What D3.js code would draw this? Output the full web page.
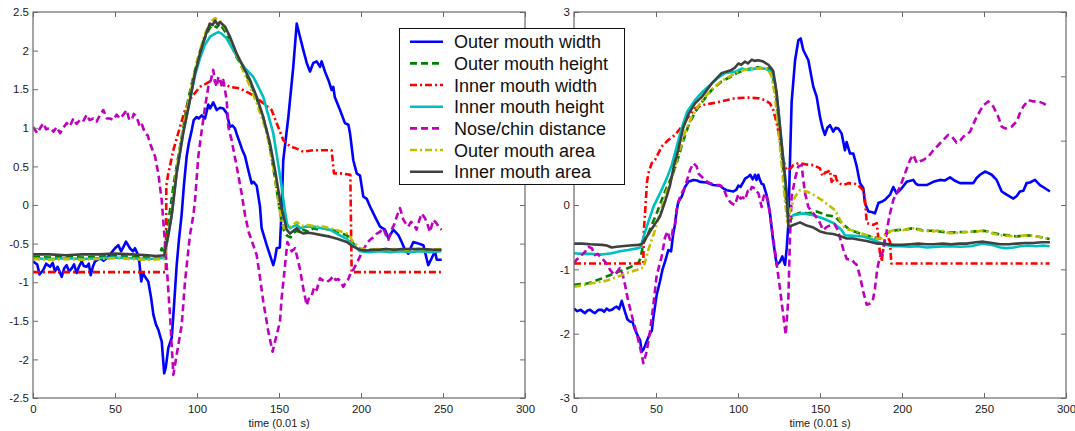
<!DOCTYPE html>
<html>
<head>
<meta charset="utf-8">
<script src="https://cdn.jsdelivr.net/npm/d3@7"></script>
<style>
  html, body { margin: 0; padding: 0; background: #fff; }
  svg { display: block; font-family: "Liberation Sans", Arial, sans-serif; }
</style>
</head>
<body>
<svg id="chart" width="1075" height="431"></svg>
<script>
// ---- tick values ----
const xTicks = [0, 50, 100, 150, 200, 250, 300];
const leftYTicks = [-2.5, -2, -1.5, -1, -0.5, 0, 0.5, 1, 1.5, 2, 2.5];
const rightYTicks = [-3, -2, -1, 0, 1, 2, 3];
const xLabel = "time (0.01 s)";

const seriesNames = ["Outer mouth width", "Outer mouth height", "Inner mouth width",
  "Inner mouth height", "Nose/chin distance", "Outer mouth area", "Inner mouth area"];

// ---- left panel: [time, value] ----
const leftOuterWidth = [[0,-0.73],[2.6,-0.77],[4,-0.9],[6.3,-0.84],[8,-0.76],[10.4,-0.8],[12,-0.75],[13.4,-0.86],[15,-0.8],[17.5,-0.93],[19,-0.82],[20.5,-0.78],[22,-0.86],[23.6,-0.82],[25,-0.77],[26.6,-0.88],[28,-0.8],[29.7,-0.73],[31,-0.79],[32.7,-0.8],[34,-0.76],[35.2,-0.91],[36.5,-0.8],[37.8,-0.73],[40.9,-0.69],[43,-0.72],[44.9,-0.69],[47,-0.64],[50,-0.56],[52,-0.52],[53.7,-0.6],[55,-0.55],[56.7,-0.475],[58,-0.52],[59.1,-0.56],[61,-0.6],[62.2,-0.56],[63.5,-0.62],[64.8,-0.73],[66,-0.99],[67,-0.88],[68.3,-0.93],[70.3,-0.99],[72,-1.2],[73.4,-1.42],[75,-1.55],[76.5,-1.62],[78.5,-1.77],[80,-2.18],[81,-2.1],[82.5,-1.85],[84.6,-1.72],[86,-1.3],[87.6,-0.78],[89,-0.45],[90.6,-0.13],[92,0.25],[93.7,0.63],[95,0.8],[96.8,0.97],[98,1.1],[99.8,1.14],[101,1.12],[102.9,1.16],[104.9,1.12],[106.9,1.3],[108,1.25],[109.9,1.33],[112,1.23],[114,1.26],[116,1.25],[118.1,1.19],[120.1,1.01],[121.5,1.03],[123.2,0.99],[124.5,0.9],[126.2,0.8],[127.5,0.72],[129.3,0.63],[131.3,0.45],[133.3,0.28],[134.5,0.3],[136.4,0.25],[138.4,-0.02],[139.4,-0.3],[142.5,-0.52],[144.5,-0.65],[146.5,-0.78],[147.5,-0.7],[148.6,-0.56],[150.5,-0.55],[151.5,-0.1],[152.6,0.58],[155.7,1.14],[158.7,1.79],[160.8,2.35],[162.8,2.18],[164.8,2.01],[166.9,1.84],[168.9,1.73],[170.9,1.84],[173,1.86],[175,1.79],[176,1.86],[178,1.73],[180.1,1.62],[182.1,1.49],[183.1,1.53],[184,1.4],[187.2,1.23],[190.2,1.06],[192.3,1.04],[193.3,0.93],[195.3,0.58],[197.4,0.41],[199.4,0.38],[201.4,0.11],[203.5,0.08],[205.5,-0.02],[208.5,-0.15],[211.6,-0.28],[214.6,-0.32],[216.7,-0.43],[219.7,-0.32],[222.8,-0.39],[224.8,-0.48],[226.8,-0.58],[228.8,-0.63],[231.9,-0.48],[235,-0.5],[238,-0.52],[241,-0.78],[243.1,-0.69],[245.1,-0.6],[246.2,-0.71],[249.2,-0.71]];

const leftOuterHeight = [[0,-0.67],[10,-0.68],[20,-0.67],[30,-0.68],[40,-0.67],[50,-0.66],[60,-0.67],[70,-0.68],[77,-0.67],[78.5,-0.56],[80,-0.6],[82,-0.3],[84,0.0],[86,0.3],[88,0.55],[90,0.8],[92,1.05],[94,1.3],[96,1.5],[98,1.68],[100,1.85],[102,2.0],[104,2.12],[106,2.22],[108,2.3],[110,2.33],[112,2.3],[114,2.35],[116,2.28],[118,2.22],[120,2.12],[122,2.02],[124,1.92],[126,1.85],[128,1.76],[130,1.68],[132,1.6],[134,1.5],[136,1.4],[138,1.28],[140,1.16],[142,1.0],[144,0.8],[146,0.55],[148,0.28],[150,0.0],[151.5,-0.2],[153,-0.33],[155,-0.4],[157,-0.42],[159,-0.36],[161,-0.33],[163,-0.36],[165,-0.32],[168,-0.35],[171,-0.3],[174,-0.32],[177,-0.3],[181,-0.32],[185,-0.34],[188,-0.37],[191,-0.39],[193,-0.42],[195.3,-0.5],[197,-0.54],[200,-0.57],[205,-0.58],[210,-0.58],[215,-0.57],[220,-0.58],[225,-0.59],[230,-0.58],[235,-0.57],[240,-0.58],[245,-0.58],[249,-0.58]];

const leftInnerWidth = [[0,-0.87],[81,-0.87],[81.3,0.25],[82.5,0.41],[85.6,0.71],[89.6,1.01],[92.7,1.23],[96.8,1.4],[101.8,1.53],[107.9,1.6],[114,1.6],[120.1,1.53],[126.2,1.51],[134.3,1.42],[140.4,1.32],[145.5,1.23],[148.6,1.06],[152.6,0.84],[156.7,0.76],[160.8,0.73],[164.8,0.69],[170.9,0.71],[177,0.71],[182.1,0.71],[183.5,0.41],[187.2,0.41],[193.5,0.39],[194.3,-0.87],[249.2,-0.87]];

const leftInnerHeight = [[0,-0.69],[10,-0.7],[20,-0.69],[30,-0.7],[40,-0.69],[50,-0.68],[60,-0.69],[70,-0.7],[78,-0.69],[80,-0.68],[82.5,-0.4],[84.6,-0.12],[87.6,0.42],[91.6,0.95],[95.7,1.36],[98.8,1.68],[101.8,1.9],[104.9,2.08],[108,2.18],[111,2.22],[113,2.24],[115,2.22],[118,2.16],[121,2.05],[125,1.9],[129,1.78],[134.3,1.66],[137,1.55],[140.4,1.4],[143,1.2],[146.5,0.93],[149,0.6],[151.6,0.24],[153.6,-0.08],[155,-0.25],[156.7,-0.3],[158.5,-0.28],[160.8,-0.26],[163,-0.3],[166,-0.28],[171,-0.28],[176,-0.3],[181,-0.32],[186,-0.38],[191.3,-0.44],[195.3,-0.52],[199.4,-0.6],[205,-0.61],[211.6,-0.6],[218,-0.61],[224,-0.6],[230,-0.61],[236,-0.6],[242,-0.61],[249,-0.6]];

const leftNoseChin = [[0,1.01],[2.6,0.93],[4.5,1.0],[6.3,1.06],[8,0.98],[10.4,1.0],[12.5,0.95],[14.4,1.01],[16.5,0.93],[18.5,1.0],[20.5,1.06],[22.5,1.02],[24.6,1.12],[26.5,1.05],[28.7,1.1],[30.5,1.08],[32.7,1.17],[34.5,1.1],[36.8,1.12],[38.8,1.08],[40.9,1.17],[42.9,1.23],[45,1.12],[47,1.12],[49,1.1],[51,1.17],[53,1.12],[55.1,1.17],[57.1,1.23],[58.5,1.12],[60.2,1.1],[61.5,1.18],[63.2,1.14],[65.2,1.01],[66.5,1.04],[68.3,0.93],[70,0.9],[71.3,0.8],[74.4,0.63],[76.4,0.41],[78.5,0.06],[79.5,-0.22],[81.5,-0.78],[83.5,-1.42],[85.6,-2.2],[87.6,-1.94],[90.7,-1.55],[92.7,-0.99],[95.7,-0.39],[97.8,-0.13],[98.8,0.06],[100.8,0.63],[102.9,0.97],[104.9,1.27],[106.9,1.53],[108.5,1.62],[109.9,1.75],[111,1.6],[112,1.53],[113,1.66],[114,1.64],[115,1.55],[116,1.62],[118.1,1.36],[119.1,1.01],[121.1,0.84],[124.2,0.5],[127.2,0.15],[129.3,-0.13],[131.5,-0.35],[134.3,-0.52],[136.4,-0.65],[138.5,-0.95],[140.4,-1.25],[143.5,-1.64],[146.1,-1.9],[148.6,-1.68],[150.6,-1.51],[151.6,-1.21],[153.7,-0.78],[155.1,-0.48],[157.7,-0.6],[159.8,-0.56],[162.8,-0.83],[164.8,-1.08],[166.9,-1.3],[168.5,-1.19],[170,-1.17],[171.5,-1.06],[173,-1.1],[175,-0.95],[177,-0.98],[179,-1.0],[181.1,-0.97],[183.1,-0.92],[184.5,-0.97],[186.2,-0.96],[187.5,-0.99],[189.2,-1.06],[191,-0.99],[192.3,-0.96],[194.3,-0.85],[195.3,-0.84],[198.4,-0.71],[201.4,-0.58],[203.5,-0.5],[205.5,-0.45],[207.5,-0.42],[209.6,-0.37],[211.5,-0.35],[213.6,-0.3],[215,-0.38],[216.7,-0.45],[218.7,-0.32],[220.3,-0.25],[221.8,-0.15],[223.8,-0.04],[225.8,-0.19],[227.3,-0.24],[228.8,-0.28],[230.5,-0.22],[231.9,-0.24],[233.9,-0.32],[235.5,-0.2],[237,-0.11],[239,-0.17],[240.5,-0.25],[242.1,-0.35],[244.1,-0.19],[246.2,-0.24],[247.8,-0.3],[249.2,-0.32]];

const leftOuterArea = [[0,-0.7],[10,-0.71],[20,-0.7],[30,-0.71],[40,-0.7],[50,-0.69],[60,-0.7],[70,-0.71],[80,-0.7],[82.5,-0.38],[84.6,-0.08],[87.6,0.46],[91.6,1.0],[95.7,1.42],[98.8,1.75],[101.8,2.0],[104.9,2.22],[108,2.37],[111,2.42],[113,2.4],[115,2.36],[118,2.26],[121,2.12],[124,1.96],[128,1.75],[132,1.55],[136.4,1.32],[140,1.1],[142.5,0.93],[146.5,0.5],[149.5,0.06],[151.5,-0.2],[153,-0.3],[156,-0.3],[158.5,-0.26],[160.8,-0.22],[164,-0.27],[168,-0.26],[173,-0.28],[177,-0.28],[181,-0.3],[186,-0.33],[191.3,-0.37],[193.5,-0.42],[195.3,-0.48],[199.4,-0.56],[205,-0.58],[210,-0.57],[216,-0.58],[222,-0.57],[228,-0.58],[235,-0.57],[242,-0.58],[249,-0.57]];

const leftInnerArea = [[0,-0.64],[10,-0.64],[20,-0.65],[30,-0.64],[40,-0.64],[50,-0.63],[60,-0.64],[70,-0.65],[75,-0.66],[80,-0.65],[82.5,-0.39],[84.6,-0.13],[87.6,0.41],[91.6,0.93],[95.7,1.36],[98.8,1.71],[101.8,1.96],[104.9,2.18],[107.9,2.35],[109.5,2.33],[111,2.39],[112.5,2.34],[114,2.37],[117.1,2.31],[120.1,2.18],[124.2,1.96],[128.2,1.79],[132.3,1.62],[136.4,1.4],[140.4,1.14],[144.5,0.8],[147.6,0.45],[150.6,0.06],[152.6,-0.13],[154.7,-0.32],[156.7,-0.37],[158.5,-0.34],[160.8,-0.3],[163,-0.35],[165,-0.37],[168,-0.36],[171,-0.37],[176,-0.39],[181,-0.41],[186,-0.44],[191.3,-0.48],[195.3,-0.54],[199.4,-0.58],[203,-0.59],[207.5,-0.58],[211,-0.58],[215.6,-0.57],[220,-0.58],[225,-0.57],[232,-0.57],[238,-0.57],[244,-0.58],[249,-0.58]];

// ---- right panel: [time, value] ----
const rightOuterWidth = [[0,-1.61],[2,-1.65],[4,-1.63],[6.7,-1.68],[8.3,-1.64],[9.8,-1.63],[11.3,-1.66],[12.8,-1.68],[14.8,-1.63],[16.9,-1.63],[18.4,-1.66],[19.9,-1.61],[21.5,-1.64],[23,-1.63],[24.5,-1.6],[26,-1.58],[27.5,-1.62],[29.1,-1.49],[31.1,-1.66],[32.6,-1.78],[34.1,-1.81],[35.7,-1.82],[37.2,-1.94],[39.2,-2.05],[40.3,-2.1],[41.3,-2.28],[42.5,-2.24],[44.3,-2.12],[46.3,-2.0],[47.5,-1.95],[48.4,-1.75],[50.4,-1.4],[52.4,-1.19],[54,-1.0],[55.5,-0.88],[57.5,-0.7],[59.2,-0.72],[60.5,-0.45],[61.6,-0.3],[62.6,-0.08],[63.6,0.05],[65.7,0.13],[67.7,0.28],[69.7,0.36],[72.8,0.39],[75,0.38],[76.8,0.36],[80.9,0.35],[84.9,0.31],[89,0.3],[91,0.26],[93.1,0.23],[97.2,0.21],[99,0.24],[100.2,0.3],[101.5,0.28],[103.3,0.36],[104.3,0.41],[106.3,0.44],[107.5,0.47],[109,0.4],[110.4,0.47],[111.3,0.39],[112.4,0.47],[113.5,0.38],[114.4,0.33],[115.5,0.32],[117.5,0.15],[119.5,-0.13],[121.5,-0.57],[123.6,-0.93],[125.6,-0.88],[127,-0.8],[128.7,-0.93],[129.7,-0.67],[130.7,-0.3],[131.5,0.5],[132.7,1.6],[134.8,2.25],[136.8,2.56],[138.2,2.59],[139.8,2.41],[142.9,2.25],[145.9,1.84],[148,1.68],[150,1.37],[151.5,1.2],[153,1.09],[154.5,1.2],[156.1,1.24],[158.1,1.14],[159.5,1.2],[161.2,1.19],[163.2,1.11],[165.2,0.85],[166.2,0.98],[168.3,0.8],[170.3,0.8],[172.4,0.6],[174.4,0.34],[176.4,0.26],[177.4,0.03],[179.5,-0.1],[181.5,-0.11],[183.5,-0.13],[185.6,0.03],[187.5,0.05],[189.6,0.08],[192.7,0.16],[194.7,0.28],[196.7,0.18],[199.8,0.26],[202.8,0.36],[206.9,0.39],[208.5,0.33],[210,0.31],[215,0.31],[219.1,0.36],[223.1,0.39],[226,0.38],[229.3,0.43],[232,0.38],[235.4,0.34],[240,0.34],[243.5,0.34],[245.5,0.42],[247.6,0.47],[250.6,0.52],[252.5,0.5],[254.7,0.47],[257.7,0.39],[260.8,0.21],[263.8,0.16],[267.9,0.1],[270,0.14],[271.9,0.21],[274,0.22],[276,0.34],[278,0.35],[281.1,0.39],[284.1,0.31],[287.2,0.26],[290.2,0.21]];

const rightOuterHeight = [[0,-1.24],[4,-1.23],[8,-1.22],[12,-1.19],[17,-1.14],[21,-1.1],[25,-1.06],[29,-1.02],[33,-0.98],[37,-0.93],[39.5,-0.89],[40.5,-0.83],[42.3,-0.6],[45.3,-0.44],[50.4,-0.13],[55.5,0.21],[59.6,0.44],[62.6,0.65],[66,0.95],[70,1.25],[74,1.45],[78,1.6],[84,1.79],[90,1.92],[96,2.0],[100,2.06],[104,2.1],[108,2.12],[112,2.14],[116,2.12],[119,2.12],[121,2.02],[123,1.75],[125,1.25],[127,0.7],[129,0.15],[130.5,-0.2],[131.7,-0.25],[133.7,-0.16],[137.8,-0.12],[142.9,-0.13],[148,-0.1],[154.1,-0.16],[159.1,-0.18],[163.2,-0.28],[168.3,-0.39],[174,-0.44],[178,-0.47],[182.5,-0.5],[186.6,-0.52],[189,-0.47],[192.7,-0.41],[197,-0.39],[202,-0.38],[207,-0.36],[212,-0.39],[216,-0.4],[220,-0.4],[225,-0.42],[230,-0.43],[235,-0.42],[240,-0.42],[245,-0.41],[250,-0.4],[255,-0.43],[260,-0.46],[265,-0.47],[270,-0.49],[275,-0.47],[280,-0.48],[285,-0.5],[290,-0.53]];

const rightInnerWidth = [[0,-0.91],[42.3,-0.91],[42.5,-0.44],[43.3,-0.13],[44.5,0.35],[45.3,0.49],[47.4,0.65],[49.4,0.7],[53.5,0.91],[57.5,1.01],[61.6,1.09],[65.7,1.22],[69.7,1.37],[73.8,1.5],[77.8,1.55],[84,1.58],[90,1.61],[98.2,1.66],[106.3,1.67],[112.4,1.66],[116.5,1.63],[119.5,1.58],[121.5,1.48],[123.6,1.27],[125.6,1.01],[127.6,0.7],[129.7,0.54],[131.8,0.56],[133.7,0.62],[136.8,0.65],[141.9,0.63],[145.9,0.62],[150,0.57],[151.5,0.45],[153,0.5],[155,0.52],[156.1,0.54],[157.1,0.36],[158.1,0.39],[159.1,0.49],[160,0.4],[161.2,0.34],[164.2,0.31],[167.3,0.34],[171.3,0.33],[174.4,0.28],[176.4,0.23],[177.4,0.1],[178.5,-0.28],[182.5,-0.31],[184.6,-0.28],[186.6,-0.75],[187.6,-0.88],[189.6,-0.5],[190.7,-0.47],[192.7,-0.57],[193.5,-0.91],[290,-0.91]];

const rightInnerHeight = [[0,-0.75],[5,-0.76],[10,-0.76],[17,-0.77],[23,-0.75],[28,-0.72],[33,-0.7],[39.2,-0.67],[40.5,-0.66],[44.3,-0.34],[48.4,-0.03],[52.4,0.18],[56.5,0.41],[59.6,0.62],[62,0.85],[65.7,1.2],[69,1.45],[73.8,1.63],[78,1.75],[84,1.89],[88,1.98],[92,2.05],[98.2,2.07],[102.2,2.12],[106,2.1],[110.4,2.12],[116.5,2.12],[120.5,2.07],[122.6,1.89],[124.6,1.48],[126.6,0.96],[128.7,0.44],[130.3,-0.03],[130.9,-0.23],[133.7,-0.16],[139.8,-0.13],[145.9,-0.16],[152,-0.21],[158.1,-0.28],[163.2,-0.39],[165.2,-0.47],[170.3,-0.48],[176.4,-0.49],[182.5,-0.54],[188.6,-0.61],[194,-0.64],[198.8,-0.64],[205,-0.65],[210,-0.64],[215,-0.66],[222,-0.65],[229,-0.64],[235.4,-0.65],[242,-0.64],[249.6,-0.6],[255,-0.62],[260,-0.66],[263.8,-0.67],[268,-0.66],[272,-0.64],[277,-0.63],[282,-0.64],[286,-0.63],[290,-0.64]];

const rightNoseChin = [[0,-0.91],[1.5,-0.85],[2.6,-0.83],[4.5,-0.78],[6.7,-0.73],[8.7,-0.65],[10.8,-0.67],[12.8,-0.78],[14.5,-0.76],[15.9,-0.8],[17.5,-0.84],[18.9,-0.88],[20.5,-0.93],[22,-1.01],[23.5,-1.05],[25,-1.09],[26.5,-1.03],[28,-0.98],[29.5,-1.06],[31.1,-1.24],[33.1,-1.5],[36.2,-1.81],[38.2,-1.99],[40.2,-2.2],[42.3,-2.46],[44.3,-2.28],[46.3,-1.97],[48.4,-1.55],[50.4,-1.1],[52.4,-0.9],[53.5,-0.8],[55.5,-0.5],[57.1,-0.41],[58.5,-0.54],[59.6,-0.5],[60.5,-0.34],[61.6,-0.3],[62.6,-0.08],[64.6,0.13],[67.7,0.28],[70.7,0.54],[72.8,0.65],[74.8,0.6],[75.8,0.49],[77.9,0.44],[80,0.38],[82.9,0.34],[87,0.31],[89.1,0.31],[91.1,0.26],[93.1,0.13],[95.1,0.05],[96.5,0.02],[98.2,0.0],[100.2,0.17],[101.5,0.1],[103,0.12],[104.3,0.08],[106,0.22],[107.3,0.2],[108.4,0.28],[110.4,0.26],[111.4,0.21],[112.5,0.18],[114.4,-0.03],[115.5,0.12],[116.5,0.18],[118.5,0.05],[119.5,-0.16],[122.6,-0.73],[125.6,-1.3],[127.6,-1.71],[129.1,-2.02],[130.7,-1.45],[131.7,-0.5],[132.7,0.13],[134.8,0.41],[136.8,0.6],[138.8,0.62],[139.8,0.39],[140.9,0.18],[142.9,-0.03],[145.9,-0.13],[149,-0.23],[152,-0.39],[154.1,-0.34],[157.1,-0.31],[159,-0.3],[161,-0.4],[164.2,-0.69],[166.3,-0.84],[169.3,-0.85],[171,-0.9],[172.4,-0.93],[174.4,-1.11],[176.4,-1.35],[178.5,-1.55],[180.5,-1.53],[182.1,-1.5],[183.5,-1.3],[185,-0.98],[186.6,-0.8],[188.3,-0.73],[190.2,-0.47],[191.7,-0.26],[192.7,-0.13],[194.7,0.08],[196.7,0.18],[198.8,0.28],[201.8,0.49],[204.9,0.7],[206.9,0.78],[209,0.65],[211,0.68],[213,0.7],[216,0.75],[219.1,0.85],[223.2,0.96],[228.2,1.09],[230.5,1.06],[233.3,0.97],[235.5,1.0],[237.4,1.06],[241.5,1.14],[245.5,1.37],[249.6,1.55],[252.6,1.61],[255.7,1.53],[258.7,1.37],[260.8,1.22],[262.8,1.19],[266.9,1.22],[270,1.3],[271.9,1.43],[274,1.53],[277,1.63],[280.1,1.61],[283.1,1.61],[286.2,1.58],[289.2,1.53]];

const rightOuterArea = [[0,-1.27],[5,-1.25],[10,-1.22],[17.9,-1.19],[23,-1.15],[28,-1.1],[33,-1.05],[38.2,-1.01],[41.3,-0.98],[42.3,-0.98],[45.3,-0.7],[49.4,-0.39],[53.5,-0.03],[56.5,0.21],[60.5,0.49],[64,0.82],[68,1.15],[72,1.38],[76,1.55],[80,1.68],[84,1.8],[90,1.93],[95,2.0],[100,2.07],[104,2.1],[108,2.12],[112.4,2.12],[116,2.13],[118.5,2.1],[120.5,2.0],[122.5,1.7],[124.5,1.2],[126.5,0.65],[128.5,0.1],[130,-0.25],[131,-0.3],[131.7,-0.08],[134.8,0.13],[137.8,0.23],[141.9,0.21],[145.9,0.16],[151,0.08],[155.1,0.0],[159.1,-0.08],[162.2,-0.23],[165.2,-0.36],[168.3,-0.39],[172.4,-0.41],[178.5,-0.47],[183.5,-0.52],[187.6,-0.52],[190.7,-0.44],[194.7,-0.39],[200.8,-0.39],[207,-0.36],[212,-0.4],[219.1,-0.41],[223.1,-0.39],[229.3,-0.44],[235,-0.43],[240,-0.42],[245,-0.41],[249.6,-0.4],[255,-0.44],[259.8,-0.47],[265,-0.48],[270,-0.49],[275,-0.47],[280,-0.48],[285,-0.5],[290.2,-0.54]];

const rightInnerArea = [[0,-0.6],[5,-0.6],[10,-0.61],[17,-0.62],[20,-0.63],[23,-0.66],[26,-0.65],[29,-0.64],[34,-0.63],[39.2,-0.62],[41.3,-0.61],[45.7,-0.44],[50,-0.27],[52.4,-0.18],[55.5,0.05],[58.5,0.3],[61,0.62],[63.5,0.85],[66.6,1.2],[70,1.42],[73.8,1.58],[77.9,1.68],[84,1.89],[90,2.05],[96.1,2.1],[98,2.13],[100.2,2.2],[102,2.18],[104.3,2.23],[106,2.2],[108.4,2.26],[110,2.24],[112.4,2.25],[115.4,2.23],[118.5,2.18],[120.5,2.12],[121.5,2.08],[123.6,1.74],[125.6,1.22],[127.6,0.7],[129.7,0.18],[130.7,-0.34],[133.7,-0.31],[137.8,-0.27],[141.9,-0.32],[146,-0.35],[150,-0.41],[154.1,-0.44],[158.1,-0.45],[162,-0.48],[166.3,-0.52],[170,-0.52],[174,-0.54],[178.5,-0.56],[184.6,-0.6],[188.6,-0.6],[194.7,-0.62],[200,-0.62],[205,-0.61],[210,-0.6],[215,-0.61],[219.1,-0.61],[225,-0.6],[230,-0.61],[235,-0.6],[239.4,-0.6],[245,-0.58],[249.6,-0.57],[255,-0.59],[259.8,-0.61],[265,-0.61],[270,-0.6],[275,-0.59],[280,-0.59],[285,-0.58],[290.2,-0.58]];

// ---- styling per series (drawing order = legend order) ----
const styles = [
  { color: "#0000ff", dash: null },
  { color: "#008000", dash: "7,4" },
  { color: "#ff0000", dash: "7,3,2,3" },
  { color: "#00bfbf", dash: null },
  { color: "#bf00bf", dash: "7,4" },
  { color: "#bfbf00", dash: "7,3,2,3" },
  { color: "#404040", dash: null }
];
const leftData = [leftOuterWidth, leftOuterHeight, leftInnerWidth, leftInnerHeight, leftNoseChin, leftOuterArea, leftInnerArea];
const rightData = [rightOuterWidth, rightOuterHeight, rightInnerWidth, rightInnerHeight, rightNoseChin, rightOuterArea, rightInnerArea];

const svg = d3.select("#chart");
const plotTop = 12, plotBottom = 398;
const frameColor = "#6a6a6a";

function drawPanel(left, right, yDomain, yTicks, data, id) {
  const x = d3.scaleLinear().domain([0, 300]).range([left, right]);
  const y = d3.scaleLinear().domain(yDomain).range([plotBottom, plotTop]);
  const g = svg.append("g");

  g.append("clipPath").attr("id", id)
    .append("rect").attr("x", left).attr("y", plotTop)
    .attr("width", right - left).attr("height", plotBottom - plotTop);

  const line = d3.line().x(d => x(d[0])).y(d => y(d[1]));
  const plot = g.append("g").attr("clip-path", `url(#${id})`);
  data.forEach((pts, i) => {
    plot.append("path")
      .datum(pts)
      .attr("d", line)
      .attr("fill", "none")
      .attr("stroke", styles[i].color)
      .attr("stroke-width", 2.6)
      .attr("stroke-linejoin", "round")
      .attr("stroke-dasharray", styles[i].dash);
  });

  // inward ticks on all four sides
  const fmt = d => String(d);
  const axB = g.append("g").attr("transform", `translate(0,${plotBottom})`)
    .call(d3.axisBottom(x).tickValues(xTicks).tickFormat(fmt).tickSizeInner(-5).tickSizeOuter(0).tickPadding(7));
  const axT = g.append("g").attr("transform", `translate(0,${plotTop})`)
    .call(d3.axisTop(x).tickValues(xTicks).tickFormat("").tickSizeInner(-5).tickSizeOuter(0));
  const axL = g.append("g").attr("transform", `translate(${left},0)`)
    .call(d3.axisLeft(y).tickValues(yTicks).tickFormat(fmt).tickSizeInner(-5).tickSizeOuter(0).tickPadding(4));
  const axR = g.append("g").attr("transform", `translate(${right},0)`)
    .call(d3.axisRight(y).tickValues(yTicks).tickFormat("").tickSizeInner(-5).tickSizeOuter(0));

  [axB, axT, axL, axR].forEach(a => {
    a.select(".domain").remove();
    a.selectAll(".tick line").attr("stroke", frameColor);
    a.selectAll("text").attr("fill", "#1a1a1a")
      .style("font-family", '"Liberation Sans", Arial, sans-serif').style("font-size", "11.5px");
  });

  g.append("rect")
    .attr("x", left).attr("y", plotTop)
    .attr("width", right - left).attr("height", plotBottom - plotTop)
    .attr("fill", "none").attr("stroke", frameColor).attr("stroke-width", 1.2);

  g.append("text")
    .attr("x", (left + right) / 2).attr("y", 427)
    .attr("text-anchor", "middle")
    .attr("fill", "#1a1a1a")
    .style("font-size", "11px")
    .text(xLabel);
}

drawPanel(33, 525, [-2.5, 2.5], leftYTicks, leftData, "clipL");
drawPanel(574, 1066, [-3, 3], rightYTicks, rightData, "clipR");

// legend, drawn over both panels
const lg = svg.append("g");
lg.append("rect").attr("x", 399.5).attr("y", 28.5).attr("width", 225).attr("height", 156)
  .attr("fill", "#fff").attr("stroke", "#111").attr("stroke-width", 1);
seriesNames.forEach((name, i) => {
  const cy = 41.7 + i * 21.67;
  lg.append("line")
    .attr("x1", 410).attr("x2", 443).attr("y1", cy).attr("y2", cy)
    .attr("stroke", styles[i].color).attr("stroke-width", 2.6)
    .attr("stroke-dasharray", styles[i].dash);
  lg.append("text")
    .attr("x", 454).attr("y", cy + 6.5)
    .attr("fill", "#111")
    .style("font-size", "18px")
    .text(name);
});
</script>
</body>
</html>
